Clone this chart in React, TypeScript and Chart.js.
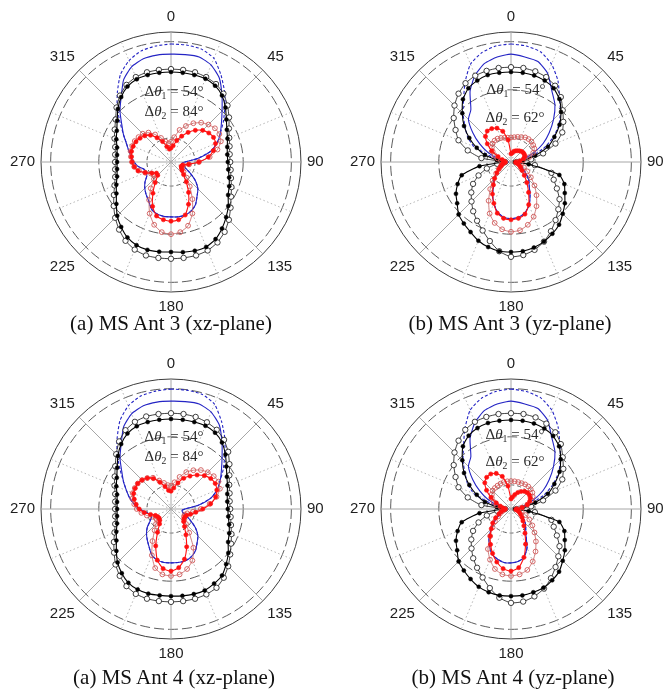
import React, { useEffect, useRef } from "react";
import { Chart, registerables } from "chart.js";

Chart.register(...registerables);

// Angle categories (degrees, clockwise from top), 7.5° apart
const angleLabels = [
  "0", "7.5", "15", "22.5", "30", "37.5", "45", "52.5", "60", "67.5", "75", "82.5",
  "90", "97.5", "105", "112.5", "120", "127.5", "135", "142.5", "150", "157.5", "165", "172.5",
  "180", "187.5", "195", "202.5", "210", "217.5", "225", "232.5", "240", "247.5", "255", "262.5",
  "270", "277.5", "285", "292.5", "300", "307.5", "315", "322.5", "330", "337.5", "345", "352.5",
];

// ---------- MS Ant 3, xz-plane (dB) ----------
const xz3BlackFilled = [
  -6.3, -6.3, -6.3, -6.3, -6.7, -7.6, -9.0, -10.5, -11.6, -12.3, -12.9, -13.2,
  -13.2, -13.0, -12.5, -11.9, -11.3, -10.0, -8.8, -7.6, -6.5, -5.9, -5.9, -6.1,
  -6.3, -6.2, -6.1, -6.3, -6.9, -8.0, -9.2, -10.7, -11.9, -12.7, -13.4, -13.7,
  -13.8, -13.7, -13.4, -12.7, -12.0, -10.9, -9.4, -8.0, -6.9, -6.4, -6.3, -6.3,
];
const xz3BlackOpen = [
  -5.7, -5.7, -5.7, -5.9, -6.3, -7.1, -8.4, -9.8, -11.1, -11.9, -12.4, -12.7,
  -12.7, -12.5, -12.1, -11.4, -10.6, -9.4, -8.0, -6.7, -5.7, -5.1, -4.9, -4.9,
  -4.9, -4.9, -4.9, -5.3, -6.1, -7.3, -8.6, -10.0, -11.3, -12.3, -13.0, -13.3,
  -13.4, -13.3, -13.0, -12.3, -11.5, -10.5, -9.0, -7.6, -6.5, -5.9, -5.7, -5.7,
];
const xz3BlueSolid = [
  -2.6, -2.5, -2.4, -3.2, -4.9, -7.6, -10.0, -11.8, -13.2, -14.6, -16.5, -19.4,
  -22.1, -22.7, -22.5, -21.8, -20.4, -18.6, -17.1, -16.1, -14.8, -14.0, -13.6, -13.5,
  -13.6, -13.6, -13.8, -14.4, -15.7, -16.5, -17.3, -18.2, -19.2, -19.4, -19.2, -18.1,
  -17.3, -16.7, -15.9, -15.0, -13.6, -12.1, -10.0, -8.0, -5.3, -3.6, -2.8, -2.6,
];
const xz3BlueDashed = [
  -0.5, -0.5, -0.7, -1.7, -4.2, -6.7, -9.2, -11.3, -13.2, -14.6, -16.5, -19.4,
  -22.1, -22.7, -22.5, -21.8, -20.4, -18.6, -17.1, -16.1, -14.8, -14.0, -13.6, -13.5,
  -13.6, -13.6, -13.8, -14.4, -15.7, -16.5, -17.3, -18.2, -19.2, -19.4, -19.2, -18.1,
  -17.3, -16.7, -15.9, -15.0, -13.6, -11.7, -9.2, -6.7, -4.0, -2.2, -1.1, -0.7,
];
const xz3RedFilled = [
  -22.1, -21.6, -20.4, -19.2, -17.9, -16.7, -15.7, -15.1, -14.8, -15.0, -15.9, -17.2,
  -19.2, -21.3, -22.5, -22.7, -22.5, -22.1, -21.3, -19.8, -17.7, -15.5, -13.6, -12.9,
  -12.7, -12.9, -13.4, -15.0, -17.5, -19.6, -21.1, -21.2, -20.4, -19.2, -17.9, -17.3,
  -16.9, -16.7, -16.5, -16.5, -16.6, -16.9, -17.3, -18.0, -19.2, -20.4, -21.7, -22.3,
];
const xz3RedOpen = [
  -20.8, -19.8, -18.1, -16.9, -15.7, -14.7, -14.0, -13.5, -13.4, -13.8, -15.0, -16.9,
  -19.2, -21.2, -22.3, -22.5, -22.3, -21.7, -20.4, -18.6, -16.1, -13.4, -11.3, -10.3,
  -10.0, -10.3, -11.5, -13.4, -15.9, -18.1, -20.0, -20.6, -20.2, -19.2, -18.1, -17.3,
  -16.9, -16.6, -16.3, -16.3, -16.3, -16.5, -16.7, -17.3, -18.4, -19.6, -20.6, -21.1,
];

// ---------- MS Ant 3, yz-plane (dB) ----------
const yz3BlackFilled = [
  -6.3, -6.3, -6.4, -6.7, -7.3, -8.5, -10.3, -12.3, -14.6, -16.7, -19.8, -22.5,
  -24.2, -21.3, -14.6, -13.0, -12.1, -10.9, -9.8, -8.6, -7.8, -7.1, -6.6, -6.3,
  -6.3, -6.3, -6.7, -7.3, -8.2, -8.9, -9.6, -10.9, -11.8, -13.0, -14.4, -18.4,
  -23.3, -22.1, -19.4, -17.3, -15.0, -12.7, -10.7, -8.6, -7.3, -6.7, -6.3, -6.3,
];
const yz3BlackOpen = [
  -5.3, -5.3, -5.5, -5.9, -6.7, -8.0, -9.8, -11.3, -12.7, -15.0, -18.1, -20.8,
  -23.8, -20.0, -16.3, -15.4, -14.0, -12.3, -11.1, -9.8, -8.4, -7.1, -6.1, -5.5,
  -5.3, -6.3, -8.0, -9.6, -10.9, -12.1, -13.4, -14.6, -15.9, -17.7, -19.8, -22.1,
  -23.8, -18.8, -15.7, -13.2, -11.7, -10.0, -8.4, -7.1, -6.1, -5.6, -5.4, -5.3,
];
const yz3BlueSolid = [
  -2.6, -3.0, -3.4, -5.1, -8.0, -10.0, -12.5, -15.0, -17.3, -19.8, -22.1, -23.8,
  -24.4, -24.2, -23.5, -22.9, -22.1, -21.1, -19.8, -18.8, -17.1, -15.2, -14.0, -13.4,
  -13.2, -13.4, -14.2, -15.7, -17.3, -19.2, -20.0, -21.3, -22.3, -23.1, -23.8, -24.2,
  -24.4, -23.8, -22.1, -19.8, -17.5, -15.0, -12.5, -11.3, -8.0, -5.5, -3.8, -3.0,
];
const yz3BlueDashed = [
  -0.5, -0.7, -1.3, -3.0, -5.5, -8.4, -10.5, -12.5, -15.0, -17.7, -20.8, -23.3,
  -24.4, -24.2, -23.5, -22.9, -22.1, -21.1, -19.8, -18.8, -17.1, -15.2, -14.0, -13.4,
  -13.2, -13.4, -14.2, -15.7, -17.3, -19.2, -20.0, -21.3, -22.3, -23.1, -23.8, -24.2,
  -24.4, -23.3, -20.8, -16.7, -14.6, -13.0, -10.9, -8.8, -5.9, -3.0, -1.5, -0.7,
];
const yz3RedFilled = [
  -23.3, -23.1, -22.7, -22.5, -22.3, -22.1, -21.9, -21.8, -21.8, -21.9, -22.3, -23.1,
  -24.0, -24.0, -23.5, -23.1, -22.7, -22.1, -21.1, -19.6, -17.7, -15.4, -13.8, -13.2,
  -13.0, -13.2, -14.0, -15.7, -17.3, -19.0, -20.2, -21.3, -22.1, -22.7, -23.1, -23.5,
  -23.8, -23.5, -23.1, -22.1, -20.4, -18.8, -17.5, -16.9, -17.0, -17.4, -18.4, -20.4,
];
const yz3RedOpen = [
  -19.9, -19.8, -19.6, -19.4, -19.1, -19.0, -19.0, -19.2, -19.4, -20.0, -21.1, -22.5,
  -23.8, -23.8, -22.9, -22.1, -21.1, -19.8, -18.1, -16.3, -14.4, -12.7, -11.5, -10.7,
  -10.5, -10.9, -11.9, -13.4, -15.7, -17.9, -19.6, -21.1, -22.1, -22.7, -23.1, -23.5,
  -23.8, -22.9, -22.1, -21.3, -20.6, -20.0, -19.6, -19.4, -19.4, -19.6, -19.8, -19.9,
];

// ---------- MS Ant 4, xz-plane (dB) ----------
const xz4BlackFilled = [
  -6.3, -6.3, -6.3, -6.3, -6.7, -7.6, -9.0, -10.5, -11.6, -12.3, -12.9, -13.2,
  -13.2, -13.0, -12.5, -11.9, -11.3, -10.0, -8.8, -7.6, -7.1, -6.7, -6.7, -6.8,
  -6.9, -6.9, -6.8, -6.9, -7.3, -8.2, -9.3, -10.7, -11.9, -12.7, -13.4, -13.7,
  -13.8, -13.7, -13.4, -12.7, -12.0, -10.9, -9.4, -8.0, -6.9, -6.4, -6.3, -6.3,
];
const xz4BlackOpen = [
  -5.1, -5.1, -5.2, -5.5, -6.0, -6.9, -8.2, -9.7, -11.0, -11.9, -12.4, -12.7,
  -12.7, -12.5, -12.1, -11.4, -10.6, -9.5, -8.2, -7.0, -6.1, -5.8, -5.7, -5.7,
  -5.7, -5.7, -5.7, -5.9, -6.5, -7.5, -8.7, -10.1, -11.3, -12.3, -13.0, -13.3,
  -13.4, -13.3, -13.0, -12.3, -11.5, -10.4, -8.9, -7.3, -6.1, -5.4, -5.1, -5.1,
];
const xz4BlueSolid = [
  -2.6, -2.5, -2.4, -3.2, -4.9, -7.6, -10.0, -11.8, -13.2, -14.6, -16.5, -19.4,
  -22.1, -22.7, -22.5, -21.8, -20.4, -18.6, -17.1, -16.1, -14.9, -14.2, -13.8, -13.8,
  -13.8, -13.8, -14.0, -14.6, -15.9, -16.9, -17.8, -18.8, -20.0, -20.6, -20.6, -19.8,
  -18.4, -17.3, -16.1, -15.0, -13.6, -12.1, -10.0, -8.0, -5.3, -3.6, -2.8, -2.6,
];
const xz4BlueDashed = [
  -0.1, -0.1, -0.3, -1.4, -4.0, -6.6, -9.2, -11.3, -13.2, -14.6, -16.5, -19.4,
  -22.1, -22.7, -22.5, -21.8, -20.4, -18.6, -17.1, -16.1, -14.9, -14.2, -13.8, -13.8,
  -13.8, -13.8, -14.0, -14.6, -15.9, -16.9, -17.8, -18.8, -20.0, -20.6, -20.6, -19.8,
  -18.4, -17.3, -16.1, -15.0, -13.6, -11.7, -9.2, -6.6, -3.8, -1.8, -0.7, -0.3,
];
const xz4RedFilled = [
  -21.3, -20.6, -19.4, -18.1, -17.1, -16.1, -15.2, -14.6, -14.4, -14.7, -15.4, -16.7,
  -18.4, -19.8, -20.8, -21.5, -21.7, -21.6, -21.3, -20.4, -18.8, -16.5, -14.2, -12.7,
  -12.1, -12.5, -14.0, -16.7, -19.4, -21.1, -21.7, -21.9, -21.8, -21.5, -20.6, -19.4,
  -18.4, -17.7, -17.1, -16.6, -16.4, -16.3, -16.5, -16.9, -17.7, -19.0, -20.2, -21.1,
];
const xz4RedOpen = [
  -20.2, -19.4, -18.1, -16.7, -15.7, -14.8, -14.2, -13.8, -13.6, -14.0, -15.2, -16.9,
  -18.8, -20.4, -21.5, -21.9, -21.9, -21.5, -20.6, -18.8, -15.7, -13.4, -12.1, -11.3,
  -11.1, -11.3, -12.3, -14.6, -17.3, -19.4, -20.6, -21.3, -21.3, -20.8, -19.8, -18.8,
  -17.9, -17.3, -16.7, -16.4, -16.3, -16.3, -16.5, -16.9, -17.5, -18.6, -19.4, -20.0,
];

// ---------- MS Ant 4, yz-plane (dB) ----------
const yz4BlackFilled = [
  -6.5, -6.5, -6.6, -6.9, -7.5, -8.6, -10.4, -12.3, -14.6, -16.7, -19.8, -22.5,
  -24.2, -21.3, -14.6, -13.0, -12.1, -10.9, -9.8, -8.6, -7.9, -7.3, -7.1, -6.9,
  -6.9, -6.9, -7.1, -7.5, -8.2, -8.9, -9.6, -10.9, -11.8, -13.0, -14.4, -18.4,
  -23.3, -22.1, -19.4, -17.3, -15.0, -12.7, -10.7, -8.6, -7.4, -6.8, -6.5, -6.5,
];
const yz4BlackOpen = [
  -5.1, -5.1, -5.3, -5.8, -6.6, -8.0, -9.8, -11.3, -12.7, -15.0, -18.1, -20.8,
  -23.8, -20.0, -16.3, -15.4, -14.0, -12.3, -11.1, -9.8, -8.4, -7.1, -6.2, -5.6,
  -5.5, -6.4, -8.0, -9.6, -10.9, -12.1, -13.4, -14.6, -15.9, -17.7, -19.8, -22.1,
  -23.8, -18.8, -15.7, -13.2, -11.7, -10.0, -8.4, -7.1, -6.0, -5.4, -5.2, -5.1,
];
const yz4BlueSolid = [
  -2.6, -3.0, -3.4, -5.1, -8.0, -10.0, -12.5, -15.0, -17.3, -19.8, -22.1, -23.8,
  -24.4, -24.2, -23.8, -23.1, -22.5, -21.7, -20.8, -20.0, -18.8, -16.3, -14.6, -14.0,
  -13.8, -13.8, -14.2, -14.8, -16.1, -17.5, -19.2, -20.6, -21.9, -22.9, -23.5, -24.0,
  -24.4, -23.8, -22.1, -19.8, -17.5, -15.0, -12.5, -11.3, -8.0, -5.5, -3.8, -3.0,
];
const yz4BlueDashed = [
  -0.1, -0.4, -1.1, -2.8, -5.4, -8.3, -10.5, -12.5, -15.0, -17.7, -20.8, -23.3,
  -24.4, -24.2, -23.8, -23.1, -22.5, -21.7, -20.8, -20.0, -18.8, -16.3, -14.6, -14.0,
  -13.8, -13.8, -14.2, -14.8, -16.1, -17.5, -19.2, -20.6, -21.9, -22.9, -23.5, -24.0,
  -24.4, -23.3, -20.8, -16.7, -14.6, -13.0, -10.9, -8.8, -5.8, -2.8, -1.2, -0.4,
];
const yz4RedFilled = [
  -22.9, -22.5, -21.9, -21.3, -20.8, -20.4, -20.2, -20.2, -20.4, -20.8, -21.5, -22.7,
  -23.8, -24.0, -23.5, -23.1, -22.7, -22.1, -21.5, -20.6, -19.2, -17.1, -14.6, -12.7,
  -12.1, -12.5, -13.6, -15.0, -16.5, -17.9, -19.2, -20.2, -21.3, -22.3, -22.9, -23.5,
  -23.8, -23.3, -22.7, -21.7, -20.2, -18.6, -17.3, -16.7, -16.6, -17.0, -18.0, -20.2,
];
const yz4RedOpen = [
  -19.2, -19.2, -19.2, -19.2, -19.1, -19.1, -19.2, -19.4, -19.8, -20.4, -21.5, -22.7,
  -23.8, -23.5, -22.7, -21.7, -20.6, -19.4, -18.1, -16.5, -14.8, -13.2, -11.9, -11.3,
  -11.1, -11.3, -12.1, -13.6, -15.4, -17.9, -19.6, -20.8, -21.9, -22.5, -23.1, -23.5,
  -23.8, -22.9, -21.9, -21.1, -20.4, -20.0, -19.6, -19.5, -19.4, -19.3, -19.2, -19.2,
];

// Radial axis range (dB) and grid ring levels
const radialMin = -25;
const radialMax = 2;
const ringStep = 10;

const annotationsXZ = ["54", "84"];
const annotationsYZ = ["54", "62"];

const BLUE = "#2424c4";

function buildDatasets(s: any) {
  return [
    {
      label: "red filled", data: s.redFilled, borderColor: "#ff1010", borderWidth: 1.1,
      pointRadius: 2.1, pointBackgroundColor: "#ff1010", pointBorderColor: "#ff1010", pointBorderWidth: 0.6,
    },
    {
      label: "red open", data: s.redOpen, borderColor: "#c46060", borderWidth: 0.8,
      pointRadius: 2.4, pointBackgroundColor: "rgba(255,255,255,0)", pointBorderColor: "#d05858", pointBorderWidth: 0.9,
    },
    {
      label: "black filled", data: s.blackFilled, borderColor: "#000", borderWidth: 1.1,
      pointRadius: 2.0, pointBackgroundColor: "#000", pointBorderColor: "#000", pointBorderWidth: 0.5,
    },
    {
      label: "black open", data: s.blackOpen, borderColor: "#111", borderWidth: 0.8,
      pointRadius: 2.7, pointBackgroundColor: "#fff", pointBorderColor: "#111", pointBorderWidth: 0.8,
    },
    { label: "blue solid", data: s.blueSolid, borderColor: BLUE, borderWidth: 1.1, pointRadius: 0 },
    { label: "blue dashed", data: s.blueDashed, borderColor: BLUE, borderWidth: 1.1, borderDash: [3, 2], pointRadius: 0 },
  ].map((d) => ({ ...d, fill: false, tension: 0.18 }));
}

const FONT_SANS = "'Liberation Sans', Arial, sans-serif";
const FONT_SERIF = "'Liberation Serif', 'Times New Roman', serif";

function PolarPanel(props: { left: number; top: number; series: any }) {
  const ref = useRef<HTMLCanvasElement | null>(null);
  useEffect(() => {
    if (!ref.current) return;
    const chart = new Chart(ref.current, {
      type: "radar",
      data: { labels: angleLabels, datasets: buildDatasets(props.series) as any },
      options: {
        responsive: false,
        animation: false,
        events: [],
        layout: { padding: 0 },
        plugins: { legend: { display: false }, tooltip: { enabled: false }, title: { display: false } },
        scales: {
          r: {
            min: radialMin,
            max: radialMax,
            startAngle: 0,
            ticks: { display: false, stepSize: ringStep },
            grid: {
              circular: true,
              color: (c: any) => {
                const v = c.tick ? c.tick.value : 0;
                if (v === radialMin) return "rgba(0,0,0,0)";
                if (v === radialMax) return "#3c3c3c";
                return "#5c5c5c";
              },
              lineWidth: 1,
            },
            border: {
              dash: (c: any) => {
                const v = c.tick ? c.tick.value : 0;
                if (v === radialMax) return [];
                if (v === -20) return [4, 3];
                return [10, 4];
              },
            },
            angleLines: {
              display: true,
              color: (c: any) => (c.index % 6 === 0 ? "#a6a6a6" : c.index % 3 === 0 ? "#b4b4b4" : "rgba(0,0,0,0)"),
              lineWidth: (c: any) => (c.index % 3 === 0 ? 1 : 0),
              borderDash: (c: any) => (c.index % 6 === 0 ? [] : [1.5, 2.5]),
            },
            pointLabels: {
              display: true,
              padding: 6,
              color: "#1e1e1e",
              font: { family: FONT_SANS, size: 15 },
              callback: (label: string, i: number) => (i % 6 === 0 ? label : ""),
            },
          },
        },
      } as any,
    });
    return () => chart.destroy();
  }, []);
  return (
    <div style={{ position: "absolute", left: props.left, top: props.top, width: 323, height: 323 }}>
      <canvas ref={ref} width={323} height={323} style={{ display: "block" }} />
    </div>
  );
}

function DeltaLabel(props: { x: number; y: number; idx: string; value: string }) {
  return (
    <div
      style={{
        position: "absolute", left: props.x, top: props.y, transform: "translate(-50%, -50%)",
        font: `15px ${FONT_SERIF}`, color: "#2a2a2a", whiteSpace: "nowrap", lineHeight: 1,
      }}
    >
      Δ<i>θ</i>
      <sub style={{ fontSize: "0.65em", verticalAlign: "-0.35em", lineHeight: 0 }}>{props.idx}</sub>
      {" = " + props.value + "°"}
    </div>
  );
}

function Caption(props: { x: number; y: number; text: string }) {
  return (
    <div
      style={{
        position: "absolute", left: props.x, top: props.y, transform: "translate(-50%, -50%)",
        font: `21px ${FONT_SERIF}`, color: "#111", whiteSpace: "nowrap", lineHeight: 1,
      }}
    >
      {props.text}
    </div>
  );
}

export default function App() {
  const xz3 = { redFilled: xz3RedFilled, redOpen: xz3RedOpen, blackFilled: xz3BlackFilled, blackOpen: xz3BlackOpen, blueSolid: xz3BlueSolid, blueDashed: xz3BlueDashed };
  const yz3 = { redFilled: yz3RedFilled, redOpen: yz3RedOpen, blackFilled: yz3BlackFilled, blackOpen: yz3BlackOpen, blueSolid: yz3BlueSolid, blueDashed: yz3BlueDashed };
  const xz4 = { redFilled: xz4RedFilled, redOpen: xz4RedOpen, blackFilled: xz4BlackFilled, blackOpen: xz4BlackOpen, blueSolid: xz4BlueSolid, blueDashed: xz4BlueDashed };
  const yz4 = { redFilled: yz4RedFilled, redOpen: yz4RedOpen, blackFilled: yz4BlackFilled, blackOpen: yz4BlackOpen, blueSolid: yz4BlueSolid, blueDashed: yz4BlueDashed };
  return (
    <div style={{ position: "absolute", left: 0, top: 0, width: 663, height: 690, overflow: "hidden", background: "#fff" }}>
      <PolarPanel left={6} top={1} series={xz3} />
      <PolarPanel left={346} top={1} series={yz3} />
      <PolarPanel left={6} top={348} series={xz4} />
      <PolarPanel left={346} top={348} series={yz4} />

      <DeltaLabel x={174} y={91} idx="1" value={annotationsXZ[0]} />
      <DeltaLabel x={174} y={111} idx="2" value={annotationsXZ[1]} />
      <DeltaLabel x={516} y={89} idx="1" value={annotationsYZ[0]} />
      <DeltaLabel x={515} y={117} idx="2" value={annotationsYZ[1]} />
      <DeltaLabel x={174} y={436} idx="1" value={annotationsXZ[0]} />
      <DeltaLabel x={174} y={456} idx="2" value={annotationsXZ[1]} />
      <DeltaLabel x={515} y={434} idx="1" value={annotationsYZ[0]} />
      <DeltaLabel x={515} y={461} idx="2" value={annotationsYZ[1]} />

      <Caption x={171} y={323} text="(a) MS Ant 3 (xz-plane)" />
      <Caption x={510} y={323} text="(b) MS Ant 3 (yz-plane)" />
      <Caption x={174} y={677} text="(a) MS Ant 4 (xz-plane)" />
      <Caption x={513} y={677} text="(b) MS Ant 4 (yz-plane)" />
    </div>
  );
}
